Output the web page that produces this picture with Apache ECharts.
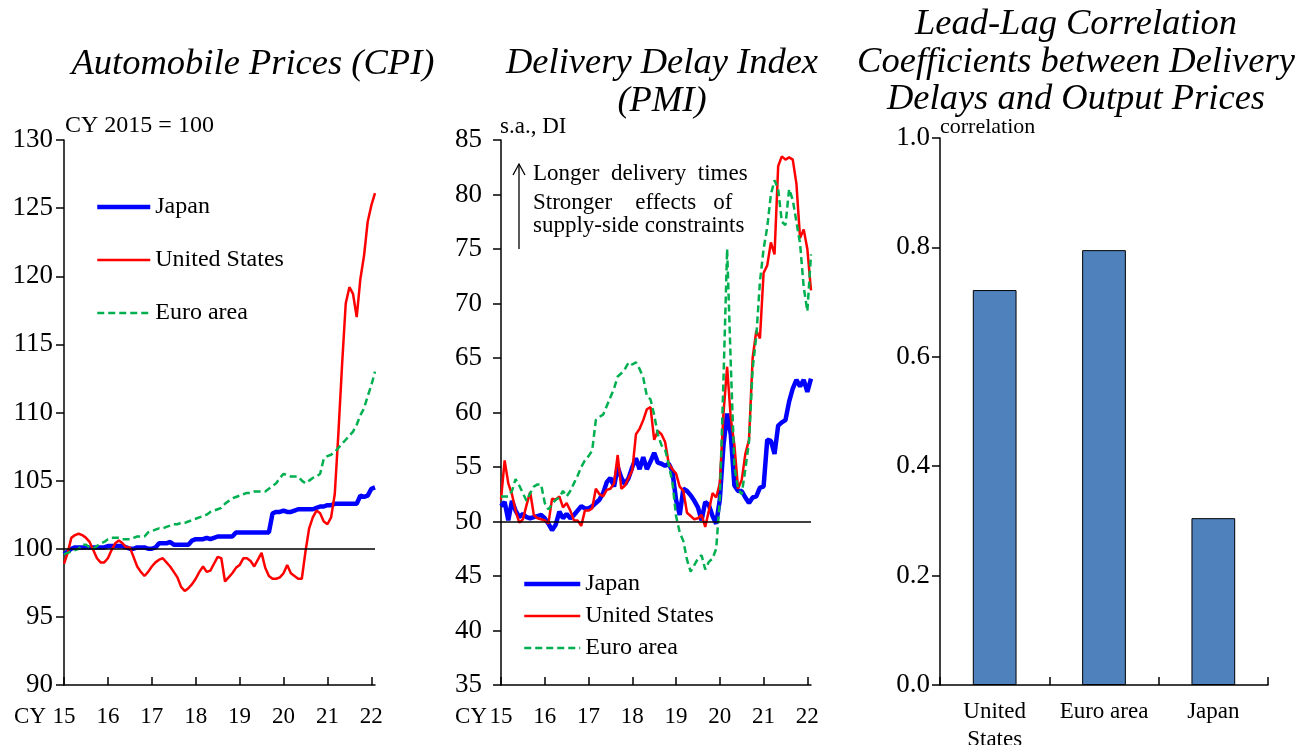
<!DOCTYPE html>
<html><head><meta charset="utf-8">
<script src="https://cdn.jsdelivr.net/npm/echarts@6/dist/echarts.min.js"></script>
<style>html,body{margin:0;padding:0;background:#fff}#c{width:1313px;height:745px}</style>
</head><body><div id="c"></div>
<script>
const FONT = '"Liberation Serif","Times New Roman",serif';

// monthly categories Jan 2015 - Feb 2022
const years = [2015, 2016, 2017, 2018, 2019, 2020, 2021, 2022];
const lastMonth2022 = 2;
const months = [];
years.forEach(y => { const n = y === 2022 ? lastMonth2022 : 12; for (let m = 1; m <= n; m++) months.push(y + '-' + (m < 10 ? '0' : '') + m); });

// Automobile prices (CPI), CY2015 = 100
const cpiJapan = [
  99.6, 99.8, 100.0, 100.1, 100.1, 100.1, 100.1, 100.1, 100.1, 100.1, 100.1, 100.1,
  100.2, 100.2, 100.2, 100.2, 100.2, 100.1, 100.0, 100.0, 100.1, 100.1, 100.1, 100.0,
  100.0, 100.1, 100.4, 100.4, 100.4, 100.5, 100.3, 100.3, 100.3, 100.3, 100.3, 100.6,
  100.7, 100.7, 100.7, 100.8, 100.7, 100.8, 100.9, 100.9, 100.9, 100.9, 100.9, 101.2,
  101.2, 101.2, 101.2, 101.2, 101.2, 101.2, 101.2, 101.2, 101.2, 102.6, 102.7, 102.7,
  102.8, 102.7, 102.7, 102.8, 102.9, 102.9, 102.9, 102.9, 102.9, 103.0, 103.1, 103.1,
  103.2, 103.2, 103.3, 103.3, 103.3, 103.3, 103.3, 103.3, 103.3, 103.9, 103.8, 103.9,
  104.4, 104.5
];
const cpiUS = [
  98.9, 99.7, 100.8, 101.0, 101.1, 101.0, 100.8, 100.5, 99.9, 99.3, 99.0, 99.0,
  99.3, 99.9, 100.4, 100.6, 100.4, 100.1, 100.1, 99.4, 98.7, 98.3, 98.0, 98.3,
  98.7, 99.0, 99.2, 99.3, 99.0, 98.7, 98.3, 97.9, 97.2, 96.9, 97.1, 97.4,
  97.8, 98.3, 98.7, 98.3, 98.4, 98.9, 99.4, 99.3, 97.6, 97.9, 98.2, 98.6,
  98.8, 99.3, 99.3, 99.1, 98.7, 99.2, 99.7, 98.6, 98.0, 97.8, 97.8, 97.9,
  98.2, 98.8, 98.2, 98.0, 97.8, 97.8, 99.8, 101.5, 102.3, 102.8, 102.6, 102.0,
  101.8, 102.3, 104.0, 108.5, 113.5, 118.0, 119.2, 118.7, 117.0, 119.8, 121.5, 124.0,
  125.2, 126.1
];
const cpiEuro = [
  99.6, 99.7, 99.8, 99.9, 100.0, 100.3, 100.3, 100.1, 100.0, 100.2, 100.4, 100.5,
  100.7, 100.8, 100.8, 100.8, 100.7, 100.7, 100.7, 100.8, 100.9, 100.9, 100.9, 101.2,
  101.3, 101.4, 101.5, 101.5, 101.6, 101.7, 101.8, 101.8, 101.9, 101.9, 102.0, 102.1,
  102.2, 102.3, 102.4, 102.5, 102.7, 102.8, 102.9, 103.0, 103.3, 103.5, 103.7, 103.8,
  103.9, 104.0, 104.1, 104.1, 104.2, 104.2, 104.2, 104.2, 104.4, 104.6, 104.8, 105.2,
  105.5, 105.4, 105.3, 105.3, 105.3, 105.0, 104.8, 105.0, 105.2, 105.3, 105.5, 106.6,
  106.8, 106.9, 107.1, 107.4, 107.7, 108.0, 108.3, 108.6, 109.1, 109.8, 110.3, 111.2,
  112.0, 113.0
];

// Delivery delay index (PMI), s.a., DI
const pmiJapan = [
  51.4, 51.8, 50.1, 51.9, 51.0, 50.4, 50.7, 50.4, 50.3, 50.4, 50.5, 50.6,
  50.3, 49.8, 49.2, 49.7, 50.9, 50.3, 50.7, 50.3, 50.6, 51.0, 51.4, 51.2,
  51.2, 51.4, 51.7, 52.0, 52.6, 53.6, 54.0, 53.2, 55.0, 54.0, 53.4, 54.0,
  55.0, 55.8, 54.8, 55.9, 54.8, 55.5, 56.3, 55.4, 55.3, 55.1, 55.3, 54.6,
  52.0, 50.6, 53.0, 52.8, 52.4, 51.9, 51.3, 50.1, 51.8, 51.5, 50.5, 49.8,
  52.0, 57.0, 59.9, 58.0, 53.3, 52.8, 52.8, 52.2, 51.7, 52.2, 52.3, 53.1,
  53.2, 57.5, 57.4, 56.2, 58.8, 59.1, 59.3, 61.0, 62.2, 63.0, 62.4, 63.0,
  61.9, 63.1
];
const pmiUS = [
  52.0, 55.6, 53.5, 52.5, 51.0, 49.9, 50.2, 51.5, 52.7, 50.6, 50.3, 50.2,
  50.1, 49.8, 52.1, 52.0, 52.3, 51.3, 51.7, 51.0, 50.1, 50.1, 49.6, 51.0,
  51.0, 51.2, 53.0, 52.5, 52.3, 52.9, 53.0, 53.5, 56.1, 53.0, 53.3, 54.0,
  54.7, 58.0, 58.5, 59.3, 60.3, 60.5, 57.5, 58.3, 58.0, 57.3, 55.3, 54.8,
  54.4, 53.2, 52.8, 50.8, 50.5, 50.2, 50.3, 50.6, 49.5, 51.0, 52.6, 52.2,
  53.5, 59.9, 64.2, 59.5, 57.0, 53.0, 53.8, 56.2, 57.5, 65.0, 67.5, 66.8,
  72.8, 73.5, 75.6, 74.5, 82.6, 83.5, 83.2, 83.4, 83.2, 81.0, 76.0, 76.8,
  75.0, 71.2
];
const pmiEuro = [
  52.3, 52.3, 52.3, 52.8, 53.9, 53.3, 52.6, 51.9, 52.6, 53.2, 53.4, 53.4,
  51.7, 51.1, 51.6, 52.0, 52.2, 52.8, 52.3, 52.8, 53.5, 54.2, 55.0, 55.6,
  56.0, 56.5, 59.3, 59.6, 59.8, 60.6, 61.4, 62.2, 63.3, 63.6, 64.0, 64.6,
  64.4, 64.6, 64.0, 63.2, 61.5, 61.2, 59.8, 58.0, 57.0, 56.6, 55.2, 53.6,
  50.5, 49.0, 48.2, 46.5, 45.4, 46.0, 46.6, 46.9, 45.6, 46.3, 46.6, 47.5,
  52.0, 63.0, 75.0, 64.5, 55.0, 53.0, 52.5, 54.8, 57.3, 64.0, 67.0, 72.0,
  75.0, 77.0, 80.0, 81.3, 80.5, 77.5, 77.2, 80.5, 79.5, 77.5, 75.5, 71.5,
  69.3, 74.5
];

// Lead-lag correlation coefficients
const corrCategories = ['United\nStates', 'Euro area', 'Japan'];
const corrValues = [0.722, 0.795, 0.305];

const seriesNames = ['Japan', 'United States', 'Euro area'];

const blue = '#0000FF', red = '#FF0000', green = '#00B050';
const black = '#000';
const styles = {
  'Japan': { color: blue, width: 4.5, type: 'solid' },
  'United States': { color: red, width: 2.5, type: 'solid' },
  'Euro area': { color: green, width: 2.5, type: [7, 4] }
};

function lineXAxis(gi) {
  return {
    type: 'category', gridIndex: gi, data: months, boundaryGap: false,
    axisLine: { show: true, onZero: false, lineStyle: { color: black, width: 1.5 } },
    axisTick: { show: true, inside: true, length: 8, interval: 11, lineStyle: { color: black, width: 1.5 } },
    axisLabel: { interval: 11, formatter: v => v.slice(2, 4), color: black, fontFamily: FONT, fontSize: 23, margin: 20 },
    splitLine: { show: false }
  };
}
function valYAxis(gi, min, max, step, margin, fmt) {
  return {
    type: 'value', gridIndex: gi, min: min, max: max, interval: step,
    axisLine: { show: true, lineStyle: { color: black, width: 1.5 } },
    axisTick: { show: true, length: 8, lineStyle: { color: black, width: 1.5 } },
    axisLabel: { color: black, fontFamily: FONT, fontSize: 27, margin: margin, formatter: fmt },
    splitLine: { show: false }
  };
}
function refLine(v) {
  return { silent: true, symbol: 'none', animation: false,
    label: { show: false },
    lineStyle: { color: black, width: 1.5, type: 'solid' },
    data: [{ yAxis: v }] };
}
function lineSeries(name, data, gi, extra) {
  const st = styles[name];
  const s = { name: name, type: 'line', xAxisIndex: gi, yAxisIndex: gi, data: data,
    symbol: 'none', smooth: false,
    lineStyle: { color: st.color, width: st.width, type: st.type },
    itemStyle: { color: st.color } };
  return Object.assign(s, extra || {});
}
function legendAt(left, top, itemWidth, itemGap) {
  return { orient: 'vertical', left: left, top: top, padding: 0, itemWidth: itemWidth, itemHeight: 14, itemGap: itemGap,
    selectedMode: false,
    data: seriesNames.map(n => ({ name: n, lineStyle: { color: styles[n].color, width: styles[n].width, type: styles[n].type } })),
    itemStyle: { opacity: 0, borderWidth: 0 },
    textStyle: { fontFamily: FONT, fontSize: 24, color: black, lineHeight: 24, padding: [0, 0, 0, 0] } };
}

const chart = echarts.init(document.getElementById('c'), null, { renderer: 'canvas' });
const titleStyle = { fontFamily: FONT, fontStyle: 'italic', fontWeight: 'normal', fontSize: 36.5, lineHeight: 37.5, color: black };

chart.setOption({
  animation: false,
  backgroundColor: '#fff',
  title: [
    { text: 'Automobile Prices (CPI)', left: 253, top: 46, textAlign: 'center', textStyle: titleStyle, padding: 0 },
    { text: 'Delivery Delay Index\n(PMI)', left: 662, top: 45, textAlign: 'center', textStyle: titleStyle, padding: 0 },
    { text: 'Lead-Lag Correlation\nCoefficients between Delivery\nDelays and Output Prices', left: 1076, top: 6, textAlign: 'center', textStyle: titleStyle, padding: 0 }
  ],
  grid: [
    { left: 64, top: 140, width: 311, height: 545, outerBoundsMode: 'none', containLabel: false },
    { left: 501, top: 140, width: 310, height: 545, outerBoundsMode: 'none', containLabel: false },
    { left: 940, top: 138, width: 328, height: 547, outerBoundsMode: 'none', containLabel: false }
  ],
  legend: [
    legendAt(95, 195, 53, 29),
    legendAt(522, 572, 56, 8)
  ],
  xAxis: [
    lineXAxis(0), lineXAxis(1),
    { type: 'category', gridIndex: 2, data: corrCategories,
      axisLine: { show: true, lineStyle: { color: black, width: 1.5 } },
      axisTick: { show: true, inside: true, length: 8, lineStyle: { color: black, width: 1.5 } },
      axisLabel: { interval: 0, color: black, fontFamily: FONT, fontSize: 23, lineHeight: 28, margin: 13 },
      splitLine: { show: false } }
  ],
  yAxis: [
    valYAxis(0, 90, 130, 5, 11),
    valYAxis(1, 35, 85, 5, 19),
    valYAxis(2, 0, 1, 0.2, 10, v => v.toFixed(1))
  ],
  series: [
    lineSeries('Japan', cpiJapan, 0, { markLine: refLine(100) }),
    lineSeries('United States', cpiUS, 0),
    lineSeries('Euro area', cpiEuro, 0),
    lineSeries('Japan', pmiJapan, 1, { markLine: refLine(50) }),
    lineSeries('United States', pmiUS, 1),
    lineSeries('Euro area', pmiEuro, 1),
    { name: 'correlation', type: 'bar', xAxisIndex: 2, yAxisIndex: 2, data: corrValues, barWidth: '40%',
      itemStyle: { color: '#4F81BD', borderColor: black, borderWidth: 1 } }
  ],
  graphic: [
    { type: 'text', left: 65, top: 114, style: { text: 'CY 2015 = 100', font: '24px ' + FONT, fill: black } },
    { type: 'text', left: 500, top: 115, style: { text: 's.a., DI', font: '23px ' + FONT, fill: black } },
    { type: 'text', left: 940, top: 116, style: { text: 'correlation', font: '22px ' + FONT, fill: black } },
    { type: 'text', right: 1313 - 46, top: 705, style: { text: 'CY', font: '23px ' + FONT, fill: black } },
    { type: 'text', right: 1313 - 487, top: 705, style: { text: 'CY', font: '23px ' + FONT, fill: black } },
    { type: 'line', shape: { x1: 519, y1: 249, x2: 519, y2: 164 }, style: { stroke: black, lineWidth: 1.3 } },
    { type: 'polyline', shape: { points: [[513, 175], [519, 164], [525, 175]] }, style: { stroke: black, lineWidth: 1.3, fill: null } },
    { type: 'text', left: 533, top: 162, style: { text: 'Longer  delivery  times', font: '23px ' + FONT, fill: black } },
    { type: 'text', left: 533, top: 191, style: { text: 'Stronger    effects   of', font: '23px ' + FONT, fill: black } },
    { type: 'text', left: 533, top: 214, style: { text: 'supply-side constraints', font: '23px ' + FONT, fill: black } }
  ]
});
</script>
</body></html>
